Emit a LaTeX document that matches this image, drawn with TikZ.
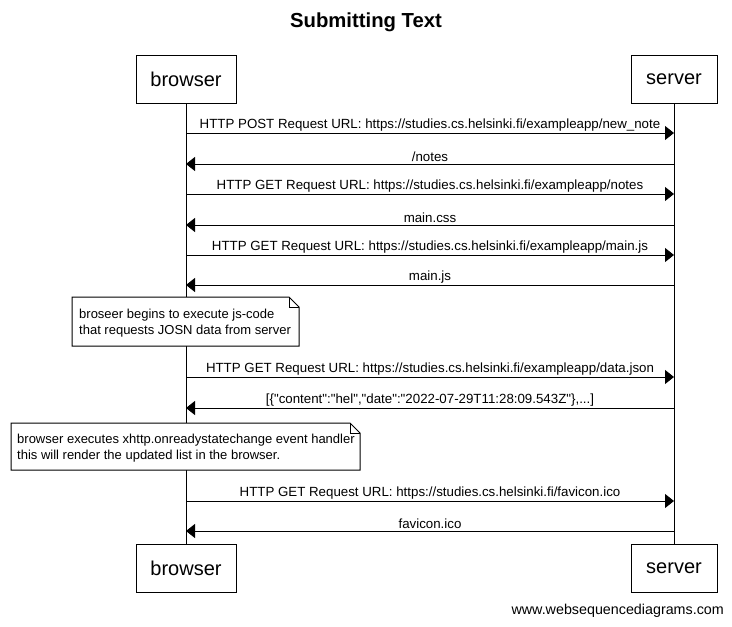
\documentclass[tikz,border=0pt]{standalone}
\usepackage{fontspec}
\setmainfont{Liberation Sans}
\usetikzlibrary{arrows.meta}
\usetikzlibrary{positioning}

\newcommand{\dq}{\textquotedbl}

\tikzset{
 party/.style={draw, fill=white, line width=1pt, minimum height=48pt, inner sep=0pt,
   font=\fontsize{20}{24}\selectfont},
 msg/.style={line width=1pt, -{Triangle[length=9pt,width=14pt]}},
 lbl/.style={above, inner sep=1.5pt, font=\fontsize{13.3}{15}\selectfont},
 notebox/.style={draw, fill=white, line width=1pt},
 notetext/.style={anchor=north west, align=left, inner sep=0pt,
   font=\fontsize{13}{16}\selectfont},
}

\begin{document}
\begin{tikzpicture} [x=1pt, y=-1pt]
\useasboundingbox (0,0) rectangle (732,627);
\node[font=\bfseries\fontsize{20.3}{24}\selectfont] (title) at (366,22) {Submitting Text};

% participants
\node[party, minimum width=100pt] (btop) at (186,79) {browser};
\node[party, minimum width=86pt] (stop) at (674,79) {server};
\node[party, minimum width=100pt] (bbot) at (186,568.5) {browser};
\node[party, minimum width=86pt] (sbot) at (674,568.5) {server};
\draw[line width=1pt] (btop) -- (bbot);
\draw[line width=1pt] (stop) -- (sbot);

% points on the lifelines
\foreach \n/\y in {1/133,2/164,3/194,4/225,5/255,6/285,7/377,8/408,9/501,10/531} {
 \coordinate (b\n) at (186,\y);
 \coordinate (s\n) at (674,\y);
}

\draw[msg] (b1) -- (s1) node[lbl, midway] {HTTP POST Request URL: https://studies.cs.helsinki.fi/exampleapp/new\_note};
\draw[msg] (s2) -- (b2) node[lbl, midway] {/notes};
\draw[msg] (b3) -- (s3) node[lbl, midway] {HTTP GET Request URL: https://studies.cs.helsinki.fi/exampleapp/notes};
\draw[msg] (s4) -- (b4) node[lbl, midway] {main.css};
\draw[msg] (b5) -- (s5) node[lbl, midway] {HTTP GET Request URL: https://studies.cs.helsinki.fi/exampleapp/main.js};
\draw[msg] (s6) -- (b6) node[lbl, midway] {main.js};

% note 1
\draw[notebox] (72,297) -- (289,297) -- (299,307) -- (299,346) -- (72,346) -- cycle;
\draw[line width=1pt] (289,297) -- (289,307) -- (299,307);
\node[notetext] (note1) at (79,309) {broseer begins to execute js-code\\that requests JOSN data from server};

\draw[msg] (b7) -- (s7) node[lbl, midway] {HTTP GET Request URL: https://studies.cs.helsinki.fi/exampleapp/data.json};
\draw[msg] (s8) -- (b8) node[lbl, midway] {[\{\dq content\dq:\dq hel\dq,\dq date\dq:\dq 2022-07-29T11:28:09.543Z\dq\},...]};

% note 2
\draw[notebox] (11,423) -- (350,423) -- (360,433) -- (360,470) -- (11,470) -- cycle;
\draw[line width=1pt] (350,423) -- (350,433) -- (360,433);
\node[notetext] (note2) at (17,434) {browser executes xhttp.onreadystatechange event handler\\this will render the updated list in the browser.};

\draw[msg] (b9) -- (s9) node[lbl, midway] {HTTP GET Request URL: https://studies.cs.helsinki.fi/favicon.ico};
\draw[msg] (s10) -- (b10) node[lbl, midway] {favicon.ico};

\node[anchor=east, inner sep=0pt, font=\fontsize{14.3}{17}\selectfont] (footer) at (724,611) {www.websequencediagrams.com};
\end{tikzpicture}
\end{document}
